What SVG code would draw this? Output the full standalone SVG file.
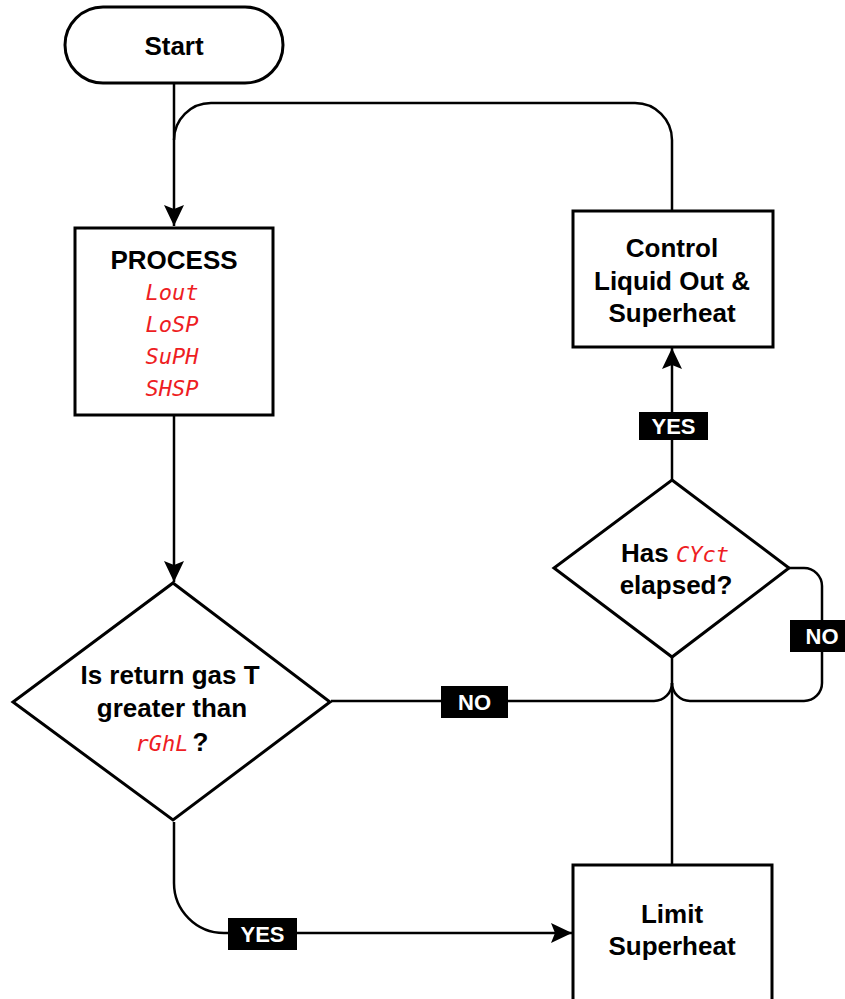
<svg xmlns="http://www.w3.org/2000/svg" width="845" height="999" viewBox="0 0 845 999">
<defs>
<marker id="arr" markerUnits="userSpaceOnUse" markerWidth="24" markerHeight="22" viewBox="-22 -11 24 22" refX="0" refY="0" orient="auto">
<path d="M0,0 L-21,-10 L-17,0 L-21,10 Z" fill="#000"/>
</marker>
<style>
.box{fill:#fff;stroke:#000;stroke-width:3}
.ln{fill:none;stroke:#000;stroke-width:2.5}
.t{font-family:"Liberation Sans",Arial,sans-serif;font-weight:bold;font-size:26px;fill:#000;text-anchor:middle}
.r{font-family:"DejaVu Sans Mono",monospace;font-style:oblique;font-weight:normal;font-size:22px;fill:#ee1d23}
.k{font-family:"Liberation Sans",Arial,sans-serif;font-weight:bold;font-size:26px;fill:#000}
.lb{fill:#000}
.lt{font-family:"Liberation Sans",Arial,sans-serif;font-weight:bold;font-size:22px;fill:#fff;text-anchor:middle}
</style>
</defs>
<rect width="845" height="999" fill="#fff"/>
<g id="connectors">
<path class="ln" d="M174,84 V226" marker-end="url(#arr)"/>
<path class="ln" d="M672,211 V140 A37,37 0 0 0 635,103 H211 A37,37 0 0 0 174,140"/>
<path class="ln" d="M174,415 V582" marker-end="url(#arr)"/>
<path class="ln" d="M174,822 V883 A50,50 0 0 0 224,933 H572" marker-end="url(#arr)"/>
<path class="ln" d="M672,864 V657"/>
<path class="ln" d="M331,701 H654 A18,18 0 0 0 672,683"/>
<path class="ln" d="M789,568 H804 A18,18 0 0 1 822,586 V683 A18,18 0 0 1 804,701 H690 A18,18 0 0 1 672,683"/>
<path class="ln" d="M672,480 V348" marker-end="url(#arr)"/>
<g id="lbl-yes1"><rect class="lb" x="228" y="918" width="69" height="32"/><text class="lt" x="262.5" y="942">YES</text></g>
<g id="lbl-no1"><rect class="lb" x="441" y="686" width="67" height="32"/><text class="lt" x="474.5" y="710">NO</text></g>
<g id="lbl-no2"><rect class="lb" x="790" y="620" width="65" height="32"/><text class="lt" x="822" y="644">NO</text></g>
<g id="lbl-yes2"><rect class="lb" x="639" y="412" width="69" height="28"/><text class="lt" x="673.5" y="434">YES</text></g>
</g>
<g id="start">
<rect class="box" x="65" y="7" width="218" height="76" rx="38" ry="38"/>
<text class="t" x="174" y="55">Start</text>
</g>
<g id="process">
<rect class="box" x="75" y="228" width="198" height="187"/>
<text class="t" x="174" y="269">PROCESS</text>
<text class="r" x="172" y="300" text-anchor="middle">Lout</text>
<text class="r" x="172" y="332" text-anchor="middle">LoSP</text>
<text class="r" x="172" y="364" text-anchor="middle">SuPH</text>
<text class="r" x="172" y="396" text-anchor="middle">SHSP</text>
</g>
<g id="decision-gas">
<polygon class="box" points="173,583 330,702 173,820 13,702"/>
<text class="t" x="170" y="684">Is return gas T</text>
<text class="t" x="172" y="717">greater than</text>
<text x="172" y="751" text-anchor="middle"><tspan class="r">rGhL</tspan><tspan class="k" dx="4">?</tspan></text>
</g>
<g id="decision-cyct">
<polygon class="box" points="672,480 789,568 672,657 554,568"/>
<text x="675" y="562" text-anchor="middle"><tspan class="k">Has </tspan><tspan class="r">CYct</tspan></text>
<text class="t" x="676" y="594">elapsed?</text>
</g>
<g id="control">
<rect class="box" x="573" y="211" width="200" height="136"/>
<text class="t" x="672" y="257">Control</text>
<text class="t" x="672" y="290">Liquid Out &amp;</text>
<text class="t" x="672" y="322">Superheat</text>
</g>
<g id="limit">
<rect class="box" x="573" y="865" width="199" height="150"/>
<text class="t" x="672" y="923">Limit</text>
<text class="t" x="672" y="955">Superheat</text>
</g>
</svg>
